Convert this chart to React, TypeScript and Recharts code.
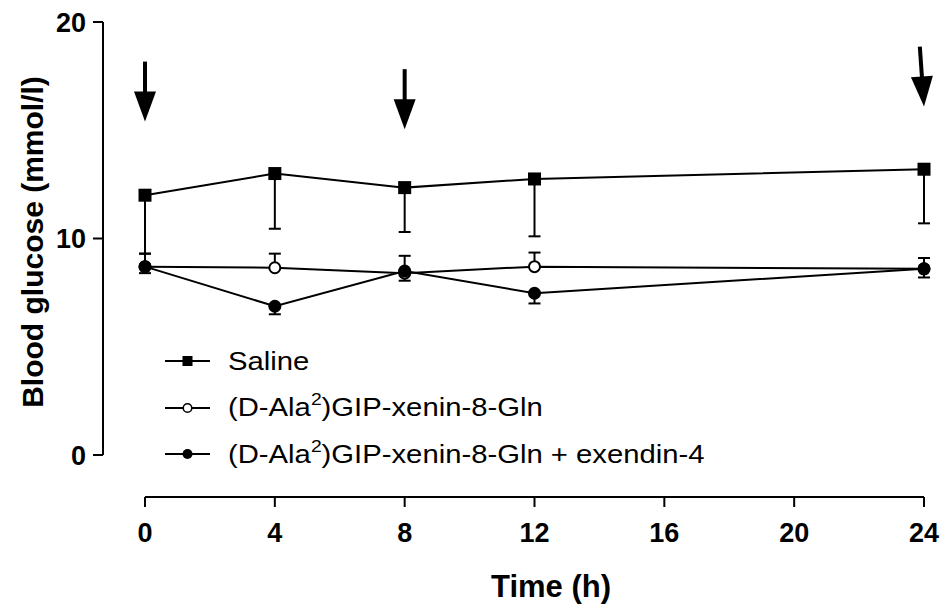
import React from "react";
import {
  LineChart,
  Line,
  XAxis,
  YAxis,
  ErrorBar,
  ReferenceLine,
  ReferenceDot,
  Legend,
  Label,
} from "recharts";

const FONT = "'Liberation Sans', Arial, sans-serif";

// time points (h)
const TIMES = [0, 4, 8, 12, 24];

// blood glucose (mmol/l), mean and SEM
const SALINE = [12.0, 13.0, 12.35, 12.75, 13.2];
const SALINE_SEM = [2.7, 2.55, 2.05, 2.65, 2.5];
const GIP_XENIN = [8.7, 8.65, 8.4, 8.7, 8.6];
const GIP_XENIN_SEM = [0.6, 0.65, 0.8, 0.65, 0.5];
const GIP_XENIN_EX4 = [8.7, 6.87, 8.5, 7.47, 8.6];
const GIP_XENIN_EX4_SEM = [0.3, 0.37, 0.45, 0.47, 0.4];

const SERIES_NAMES = [
  "Saline",
  "(D-Ala2)GIP-xenin-8-Gln",
  "(D-Ala2)GIP-xenin-8-Gln + exendin-4",
];

const X_TICKS = [0, 4, 8, 12, 16, 20, 24];
const Y_TICKS = [0, 10, 20];

// injection times and where the arrow tips point
const DOSE_TIMES = [0, 8, 24];
const DOSE_TIPS = [15.4, 15.05, 16.1];
const DOSE_TILT = [0, 0, -4];

// axes are detached from each other, so the domains run a bit past 0
const X_MIN = -1.294;
const Y_MIN = -1.94;

const rows = TIMES.map((t, i) => ({
  t,
  saline: SALINE[i],
  salineErr: [SALINE_SEM[i], 0],
  gip: GIP_XENIN[i],
  gipErr: [0, GIP_XENIN_SEM[i]],
  combo: GIP_XENIN_EX4[i],
  comboErr: [GIP_XENIN_EX4_SEM[i], 0],
}));

const SquareDot = (p: any) =>
  p.cx == null ? null : (
    <rect key={p.key} x={p.cx - 6.5} y={p.cy - 6.5} width={13} height={13} fill="#000" />
  );

const OpenDot = (p: any) =>
  p.cx == null ? null : (
    <circle key={p.key} cx={p.cx} cy={p.cy} r={5.5} fill="#fff" stroke="#000" strokeWidth={2} />
  );

const FilledDot = (p: any) =>
  p.cx == null ? null : <circle key={p.key} cx={p.cx} cy={p.cy} r={6.5} fill="#000" />;

const DoseArrow = ({ cx, cy, tilt }: any) => (
  <g transform={`rotate(${tilt} ${cx} ${cy})`}>
    <line x1={cx} y1={cy - 60} x2={cx} y2={cy - 28} stroke="#000" strokeWidth={4} />
    <polygon points={`${cx - 11},${cy - 30} ${cx + 11},${cy - 30} ${cx},${cy}`} fill="#000" />
  </g>
);

const XTick = ({ x, y, payload }: any) => (
  <text x={x} y={y} dy={33} textAnchor="middle" fontSize={27} fontWeight="bold" fontFamily={FONT} fill="#000">
    {payload.value}
  </text>
);

const YTick = ({ x, y, payload }: any) => (
  <text x={x} y={y} dy={10} textAnchor="end" fontSize={27} fontWeight="bold" fontFamily={FONT} fill="#000">
    {payload.value}
  </text>
);

function withSup(name: string) {
  const parts = name.split("Ala2");
  if (parts.length === 1) return name;
  return (
    <>
      {parts[0]}Ala<sup style={{ fontSize: "0.66em", verticalAlign: "0.62em", lineHeight: 0 }}>2</sup>
      {parts[1]}
    </>
  );
}

function LegendMark({ kind }: { kind: number }) {
  return (
    <svg width={45} height={20} style={{ display: "block" }}>
      <line x1={0} y1={10} x2={45} y2={10} stroke="#000" strokeWidth={2} />
      {kind === 0 && <rect x={17.5} y={5} width={10} height={10} fill="#000" />}
      {kind === 1 && <circle cx={22.5} cy={10} r={4.3} fill="#fff" stroke="#000" strokeWidth={1.6} />}
      {kind === 2 && <circle cx={22.5} cy={10} r={5} fill="#000" />}
    </svg>
  );
}

const LegendBox = () => (
  <div style={{ fontFamily: FONT, fontSize: 26, color: "#000" }}>
    {SERIES_NAMES.map((name, i) => (
      <div key={name} style={{ display: "flex", alignItems: "center", height: 46.5, whiteSpace: "nowrap" }}>
        <LegendMark kind={i} />
        <span
          style={{
            marginLeft: 18,
            display: "inline-block",
            transform: "scaleX(1.125)",
            transformOrigin: "left center",
          }}
        >
          {withSup(name)}
        </span>
      </div>
    ))}
  </div>
);

export default function App() {
  return (
    <LineChart
      width={942}
      height={597}
      data={rows}
      margin={{ top: 14, right: 26, bottom: 0, left: 0 }}
    >
      <XAxis
        dataKey="t"
        type="number"
        domain={[X_MIN, 24]}
        ticks={X_TICKS}
        axisLine={false}
        tickLine={{ stroke: "#000", strokeWidth: 2 }}
        tickSize={10}
        tick={<XTick />}
        height={108}
        interval={0}
      >
        <Label
          content={() => (
            <text x={543} y={589} textAnchor="middle" fontSize={31} fontWeight="bold" fontFamily={FONT} fill="#000">
              Time (h)
            </text>
          )}
        />
      </XAxis>
      <YAxis
        type="number"
        domain={[Y_MIN, 20]}
        ticks={Y_TICKS}
        axisLine={false}
        tickLine={{ stroke: "#000", strokeWidth: 2 }}
        tickSize={10}
        tickMargin={7}
        tick={<YTick />}
        width={95}
        interval={0}
      >
        <Label
          content={() => (
            <text
              transform="translate(35, 234) rotate(-90)"
              textAnchor="middle"
              fontSize={30}
              fontWeight="bold"
              fontFamily={FONT}
              fill="#000"
            >
              Blood glucose (mmol/l)
            </text>
          )}
        />
      </YAxis>

      <ReferenceLine
        segment={[{ x: X_MIN, y: 0 }, { x: X_MIN, y: 20 }]}
        stroke="#000"
        strokeWidth={2}
        ifOverflow="visible"
      />
      <ReferenceLine
        segment={[{ x: 0, y: Y_MIN }, { x: 24, y: Y_MIN }]}
        stroke="#000"
        strokeWidth={2}
        ifOverflow="visible"
      />

      {DOSE_TIMES.map((t, i) => (
        <ReferenceDot
          key={`dose-${t}`}
          x={t}
          y={DOSE_TIPS[i]}
          r={0}
          ifOverflow="visible"
          shape={(p: any) => <DoseArrow cx={p.cx} cy={p.cy} tilt={DOSE_TILT[i]} />}
        />
      ))}

      <Line
        dataKey="saline"
        name={SERIES_NAMES[0]}
        stroke="#000"
        strokeWidth={2}
        dot={SquareDot}
        activeDot={false}
        isAnimationActive={false}
      >
        <ErrorBar dataKey="salineErr" direction="y" width={6} stroke="#000" strokeWidth={2} />
      </Line>
      <Line
        dataKey="gip"
        name={SERIES_NAMES[1]}
        stroke="#000"
        strokeWidth={2}
        dot={OpenDot}
        activeDot={false}
        isAnimationActive={false}
      >
        <ErrorBar dataKey="gipErr" direction="y" width={6} stroke="#000" strokeWidth={2} />
      </Line>
      <Line
        dataKey="combo"
        name={SERIES_NAMES[2]}
        stroke="#000"
        strokeWidth={2}
        dot={FilledDot}
        activeDot={false}
        isAnimationActive={false}
      >
        <ErrorBar dataKey="comboErr" direction="y" width={6} stroke="#000" strokeWidth={2} />
      </Line>

      <Legend
        layout="vertical"
        align="center"
        verticalAlign="middle"
        content={<LegendBox />}
        wrapperStyle={{ left: 157, top: 330, width: "auto", height: "auto" }}
      />
    </LineChart>
  );
}
